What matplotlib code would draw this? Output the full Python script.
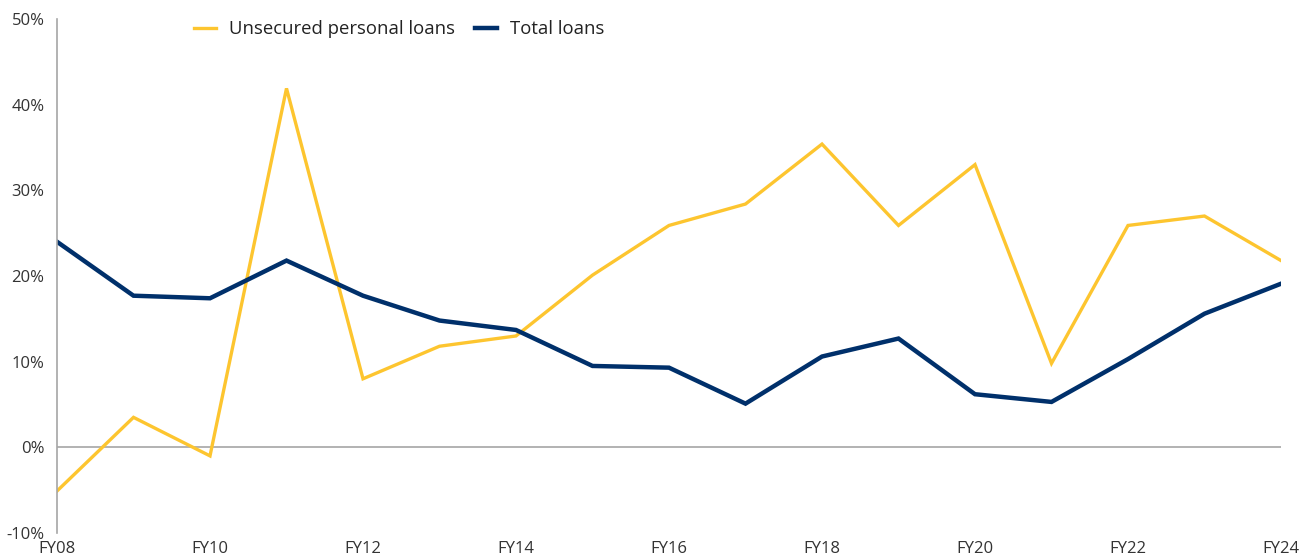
import matplotlib
matplotlib.use("Agg")
import matplotlib.pyplot as plt
from matplotlib.ticker import FuncFormatter

years = ["FY08", "FY09", "FY10", "FY11", "FY12", "FY13", "FY14", "FY15", "FY16",
         "FY17", "FY18", "FY19", "FY20", "FY21", "FY22", "FY23", "FY24"]
unsecured = [-5.1, 3.5, -1.0, 41.9, 8.0, 11.8, 13.0, 20.1, 25.9, 28.4, 35.4,
             25.9, 33.0, 9.8, 25.9, 27.0, 21.8]
total = [24.0, 17.7, 17.4, 21.8, 17.7, 14.8, 13.7, 9.5, 9.3, 5.1, 10.6, 12.7,
         6.2, 5.3, 10.3, 15.6, 19.1]
y_ticks = [-10, 0, 10, 20, 30, 40, 50]

plt.rcParams['font.family'] = ['Open Sans', 'DejaVu Sans']

fig = plt.figure(figsize=(13.02, 5.56), dpi=100)
ax = fig.add_axes([57/1302, 1-533/556, (1281-57)/1302, (533-19)/556])

x = list(range(len(years)))
l1, = ax.plot(x, unsecured, color="#FDC52F", lw=2.4, label="Unsecured personal loans",
              solid_joinstyle="miter")
l2, = ax.plot(x, total, color="#00306B", lw=3.2, label="Total loans",
              solid_joinstyle="miter")

ax.set_xlim(0, len(years)-1)
ax.set_ylim(-10, 50)
ax.set_yticks(y_ticks)
ax.yaxis.set_major_formatter(FuncFormatter(lambda v, p: f"{v:.0f}%"))
ax.set_xticks(x[::2])
ax.set_xticklabels(years[::2])
ax.axhline(0, color="#A6A6A6", lw=1.2, zorder=0)

for s in ["top", "right", "bottom"]:
    ax.spines[s].set_visible(False)
ax.spines["left"].set_color("#A6A6A6")
ax.spines["left"].set_linewidth(1.2)

ax.tick_params(axis="both", length=0, labelsize=12, colors="#333333")
ax.tick_params(axis="y", pad=9)
ax.tick_params(axis="x", pad=6)

fig.legend(handles=[l1, l2], loc="center", bbox_to_anchor=(399/1302, 1-29/556),
           ncol=2, frameon=False, fontsize=13.3, handlelength=1.2,
           columnspacing=1.1, handletextpad=0.7, labelcolor="#222222")

fig.savefig("out.png", dpi=100)
